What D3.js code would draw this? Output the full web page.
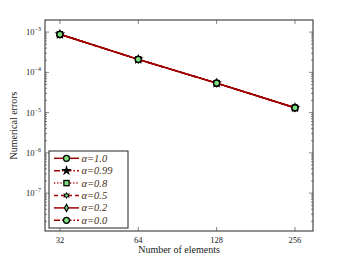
<!DOCTYPE html>
<html>
<head>
<meta charset="utf-8">
<script src="https://cdn.jsdelivr.net/npm/d3@7"></script>
<style>
  body { margin: 0; background: #fff; }
  svg { display: block; font-family: "Liberation Serif", "DejaVu Serif", serif; }
</style>
</head>
<body>
<svg id="chart" width="346" height="261"></svg>
<script>
// data
const elements = [32, 64, 128, 256];
const err10 = [8.8e-4, 2.1e-4, 5.4e-5, 1.32e-5];
const err099 = [8.8e-4, 2.1e-4, 5.4e-5, 1.32e-5];
const err08 = [8.8e-4, 2.1e-4, 5.4e-5, 1.32e-5];
const err05 = [8.8e-4, 2.1e-4, 5.4e-5, 1.32e-5];
const err02 = [8.8e-4, 2.1e-4, 5.4e-5, 1.32e-5];
const err00 = [8.8e-4, 2.1e-4, 5.4e-5, 1.32e-5];
const alphas = ["1.0", "0.99", "0.8", "0.5", "0.2", "0.0"];
const yTicks = [-7, -6, -5, -4, -3];

const series = [
  {a: alphas[0], vals: err10, dash: null, marker: "circle"},
  {a: alphas[1], vals: err099, dash: "6,2,1.5,2", marker: "star"},
  {a: alphas[2], vals: err08, dash: "1.2,2", marker: "square"},
  {a: alphas[3], vals: err05, dash: "4,3", marker: "hex"},
  {a: alphas[4], vals: err02, dash: null, marker: "diamond"},
  {a: alphas[5], vals: err00, dash: "6,2,1.5,2", marker: "circle"}
];

const lineColor = "#a00000";
const fillGreen = "#7fe07f";

const margin = {top: 20, right: 33, bottom: 30, left: 45};
const svg = d3.select("#chart");
const W = 346, H = 261;
const x0 = margin.left, x1 = W - margin.right;
const y0 = margin.top, y1 = H - margin.bottom;

const x = d3.scaleLog().base(2).domain([Math.pow(2, 4.81), Math.pow(2, 8.23)]).range([x0, x1]);
const y = d3.scaleLog().domain([Math.pow(10, -7.94), Math.pow(10, -2.70)]).range([y1, y0]);

// frame
svg.append("rect")
  .attr("x", x0).attr("y", y0)
  .attr("width", x1 - x0).attr("height", y1 - y0)
  .attr("fill", "none").attr("stroke", "#222").attr("stroke-width", 1);

// y ticks, major and minor, inside on both sides
const g = svg.append("g").attr("stroke", "#333").attr("stroke-width", 0.6);
for (let e = -8; e <= -3; e++) {
  for (let m = 1; m < 10; m++) {
    const v = m * Math.pow(10, e);
    const py = y(v);
    if (py < y0 || py > y1) continue;
    const len = m === 1 ? 4 : 2;
    g.append("line").attr("x1", x0).attr("x2", x0 + len).attr("y1", py).attr("y2", py);
    g.append("line").attr("x1", x1).attr("x2", x1 - len).attr("y1", py).attr("y2", py);
  }
}
// x ticks
elements.forEach(v => {
  g.append("line").attr("x1", x(v)).attr("x2", x(v)).attr("y1", y1).attr("y2", y1 - 4);
  g.append("line").attr("x1", x(v)).attr("x2", x(v)).attr("y1", y0).attr("y2", y0 + 4);
});

// y tick labels
yTicks.forEach(e => {
  const t = svg.append("text")
    .attr("x", x0 - 4).attr("y", y(Math.pow(10, e)) + 3)
    .attr("text-anchor", "end").attr("font-size", 8.5).attr("fill", "#222");
  t.append("tspan").text("10");
  t.append("tspan").attr("dy", -4).attr("font-size", 6).text("\u2212" + Math.abs(e));
});
// x tick labels
elements.forEach(v => {
  svg.append("text").attr("x", x(v)).attr("y", y1 + 12)
    .attr("text-anchor", "middle").attr("font-size", 8.5).attr("fill", "#222").text(v);
});

// axis titles
svg.append("text").attr("x", (x0 + x1) / 2).attr("y", 253)
  .attr("text-anchor", "middle").attr("font-size", 10).attr("fill", "#222").text("Number of elements");
svg.append("text").attr("transform", `translate(17,${(y0 + y1) / 2}) rotate(-90)`)
  .attr("text-anchor", "middle").attr("font-size", 10).attr("fill", "#222").text("Numerical errors");

function drawMarker(sel, type, cx, cy) {
  const p = sel.append("g").attr("transform", `translate(${cx},${cy})`);
  if (type === "circle") {
    p.append("circle").attr("r", 3).attr("fill", fillGreen).attr("stroke", "#000").attr("stroke-width", 1.3);
  } else if (type === "square") {
    p.append("rect").attr("x", -2.6).attr("y", -2.6).attr("width", 5.2).attr("height", 5.2)
      .attr("fill", fillGreen).attr("stroke", "#000").attr("stroke-width", 1.3);
  } else if (type === "star") {
    p.append("path").attr("d", d3.symbol(d3.symbolStar, 36)()).attr("fill", "#000");
  } else if (type === "hex") {
    const pts = d3.range(12).map(i => {
      const r = i % 2 ? 2 : 3.8, a = Math.PI / 6 * i - Math.PI / 2;
      return [r * Math.cos(a), r * Math.sin(a)];
    });
    p.append("path").attr("d", d3.line()(pts) + "Z").attr("fill", "#000");
    p.append("circle").attr("r", 1.3).attr("fill", fillGreen);
  } else if (type === "diamond") {
    p.append("path").attr("d", "M0,-3.6L2,0L0,3.6L-2,0Z")
      .attr("fill", fillGreen).attr("stroke", "#000").attr("stroke-width", 1.2);
  }
}

// series
const line = d3.line().x(d => x(d[0])).y(d => y(d[1]));
series.forEach(s => {
  const pts = elements.map((v, i) => [v, s.vals[i]]);
  svg.append("path").datum(pts).attr("d", line)
    .attr("fill", "none").attr("stroke", lineColor).attr("stroke-width", 1.5)
    .attr("stroke-dasharray", s.dash);
  pts.forEach(d => drawMarker(svg, s.marker, x(d[0]), y(d[1])));
});

// legend
const lg = svg.append("g");
lg.append("rect").attr("x", 49).attr("y", 151).attr("width", 79).attr("height", 77)
  .attr("fill", "#fff").attr("stroke", "#222").attr("stroke-width", 1);
series.forEach((s, i) => {
  const ly = 158.3 + i * 12.4;
  lg.append("line").attr("x1", 54).attr("x2", 79).attr("y1", ly).attr("y2", ly)
    .attr("stroke", lineColor).attr("stroke-width", 1.5).attr("stroke-dasharray", s.dash);
  drawMarker(lg, s.marker, 66.5, ly);
  lg.append("text").attr("x", 81.5).attr("y", ly + 3.5)
    .attr("font-size", 10.5).attr("font-style", "italic").attr("fill", "#4a3020")
    .text("\u03b1=" + s.a);
});
</script>
</body>
</html>
